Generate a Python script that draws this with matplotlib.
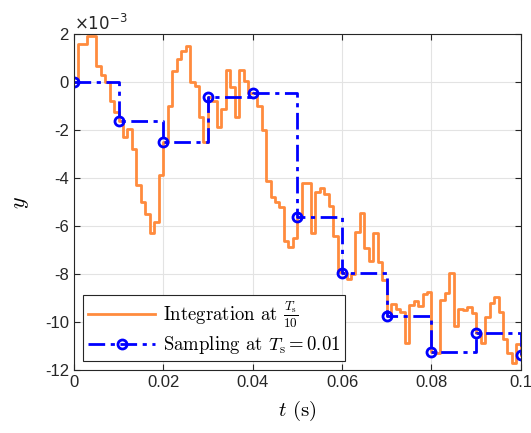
import numpy as np
import matplotlib
matplotlib.use("Agg")
import matplotlib.pyplot as plt
from matplotlib.font_manager import FontProperties

# fine integration, one value per Ts/10 step (units of 1e-3)
y_fine = [0.0, 1.6, 1.6, 1.92, 1.92, 0.66, 0.32, 0.0, -0.8, -1.25,
          -1.6, -2.3, -1.96, -2.79, -4.3, -4.99, -5.48, -6.3, -5.82, -3.85,
          -2.51, -1.0, 0.48, 0.96, 1.28, 1.52, 0.0, -0.16, -1.47, -2.51,
          -0.6, -0.8, -1.85, -1.1, 0.5, -0.22, -1.45, 0.5, 0.05, -0.45,
          -0.45, -1.0, -2.0, -4.1, -4.8, -4.99, -5.22, -6.6, -6.85, -6.5,
          -5.6, -4.2, -4.2, -6.28, -4.57, -4.4, -4.64, -5.15, -6.4, -7.9,
          -7.93, -8.18, -8.0, -6.24, -5.44, -6.9, -7.47, -6.3, -7.49, -8.23,
          -9.74, -9.25, -9.43, -9.57, -10.86, -9.29, -9.11, -9.33, -8.83, -8.74,
          -11.24, -11.3, -9.08, -8.8, -7.94, -10.15, -9.47, -9.5, -9.36, -9.61,
          -10.44, -10.86, -9.78, -9.19, -8.94, -9.57, -10.72, -11.28, -11.69, -10.92,
          -11.38]
t_fine = np.linspace(0, 0.1, len(y_fine))

# sampled values at Ts = 0.01
t_samp = [0.0, 0.01, 0.02, 0.03, 0.04, 0.05, 0.06, 0.07, 0.08, 0.09, 0.1]
y_samp = [0.0, -1.6, -2.51, -0.6, -0.45, -5.6, -7.93, -9.74, -11.24, -10.44, -11.38]

xticks = [0, 0.02, 0.04, 0.06, 0.08, 0.1]
xticklabels = ["0", "0.02", "0.04", "0.06", "0.08", "0.1"]
yticks = [2, 0, -2, -4, -6, -8, -10, -12]

plt.rcParams['font.family'] = ['Liberation Sans', 'DejaVu Sans']

fig = plt.figure(figsize=(5.31, 4.33), dpi=100)
ax = fig.add_axes([0.139, 0.145, 0.842, 0.776])

ax.step(t_fine, y_fine, where='post', color='#FF8B3D', lw=2.0,
        label=r'Integration at $\frac{T_\mathrm{s}}{10}$')
ax.step(t_samp, y_samp, where='post', color='blue', lw=2.0,
        dashes=(6, 2, 1.5, 2), marker='o', ms=6.5, mfc='none', mew=2.0,
        label=r'Sampling at $T_\mathrm{s} = 0.01$')

ax.set_xlim(0, 0.1)
ax.set_ylim(-12, 2)
ax.set_xticks(xticks)
ax.set_xticklabels(xticklabels)
ax.set_yticks(yticks)
ax.set_yticklabels([str(v) for v in yticks])
ax.tick_params(direction='in', top=True, right=True, labelsize=12,
               colors='#262626', length=4, width=0.8)
ax.grid(True, color='#E3E3E3', lw=0.8)
ax.set_axisbelow(True)
for s in ax.spines.values():
    s.set_color('#262626')
    s.set_linewidth(0.8)

ax.set_xlabel(r'$t$ (s)', fontfamily='cmr10', math_fontfamily='cm', fontsize=15,
              labelpad=6)
ax.set_ylabel(r'$y$', math_fontfamily='cm', fontsize=16, labelpad=10)
ax.text(0.0, 1.005, r'$\times10^{-3}$', transform=ax.transAxes, fontsize=12,
        color='#262626', va='bottom', ha='left', math_fontfamily='dejavusans')

leg_font = FontProperties(family='cmr10', math_fontfamily='cm', size=13.5)
leg = ax.legend(loc='lower left', prop=leg_font, fancybox=False, framealpha=1,
                edgecolor='#262626', handlelength=3.6, borderpad=0.25,
                labelspacing=0.15, handletextpad=0.4, borderaxespad=0.5)
leg.get_frame().set_linewidth(0.8)

fig.savefig('out.png', dpi=100)
